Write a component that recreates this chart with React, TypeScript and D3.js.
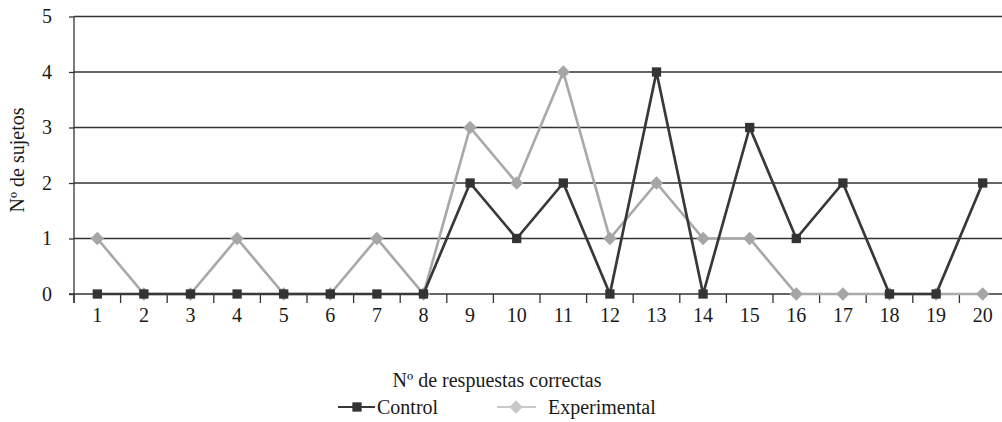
import { useEffect, useRef } from "react";
import * as d3 from "d3";

// ─── Data ───────────────────────────────────────────────────────────────────
const categories = [1, 2, 3, 4, 5, 6, 7, 8, 9, 10, 11, 12, 13, 14, 15, 16, 17, 18, 19, 20];
const control = [0, 0, 0, 0, 0, 0, 0, 0, 2, 1, 2, 0, 4, 0, 3, 1, 2, 0, 0, 2];
const experimental = [1, 0, 0, 1, 0, 0, 1, 0, 3, 2, 4, 1, 2, 1, 1, 0, 0, 0, 0, 0];
const yTicks = [0, 1, 2, 3, 4, 5];

const FONT = "'Liberation Serif', 'DejaVu Serif', serif";
const DARK = "#383838";
const LIGHT = "#a9a9a9";
const FS = 20;

export default function App() {
  const svgRef = useRef<SVGSVGElement>(null);

  useEffect(() => {
    document.body.style.margin = "0";
    if (!svgRef.current) return;

    const left = 74;
    const right = 1006;
    const top = 16.5;
    const bottom = 294;

    const svg = d3.select(svgRef.current);
    svg.selectAll("*").remove();

    // ── Scales ─────────────────────────────────────────────────────────────
    const x = d3
      .scaleBand<number>()
      .domain(categories)
      .range([left, right])
      .padding(0);
    const cx = (d: number) => (x(d) ?? 0) + x.bandwidth() / 2;

    const y = d3.scaleLinear().domain([0, 5]).range([bottom, top]);

    // ── Grid lines ─────────────────────────────────────────────────────────
    svg
      .append("g")
      .selectAll("line")
      .data(yTicks.filter((t) => t > 0))
      .enter()
      .append("line")
      .attr("x1", left)
      .attr("x2", 1002)
      .attr("y1", (d) => y(d))
      .attr("y2", (d) => y(d))
      .attr("stroke", "#333")
      .attr("stroke-width", 1.3);

    // ── Y axis ─────────────────────────────────────────────────────────────
    const yAxis = svg
      .append("g")
      .attr("transform", `translate(${left},0)`)
      .call(d3.axisLeft(y).tickValues(yTicks).tickSize(5).tickPadding(17).tickFormat(d3.format("d")));
    yAxis.select(".domain").attr("stroke", "#333").attr("stroke-width", 1.3).attr("d", `M0,${top}V${bottom + 9}`);
    yAxis.selectAll("line").attr("stroke", "#333").attr("stroke-width", 1.3);
    yAxis
      .selectAll("text")
      .attr("fill", "#1a1a1a")
      .attr("font-family", FONT)
      .attr("font-size", FS);

    // ── X axis (ticks at band edges) ───────────────────────────────────────
    const xg = svg.append("g");
    xg.append("line")
      .attr("x1", left - 5)
      .attr("x2", 1002)
      .attr("y1", bottom)
      .attr("y2", bottom)
      .attr("stroke", "#333")
      .attr("stroke-width", 1.3);
    xg.selectAll(".xtick")
      .data(categories)
      .enter()
      .append("line")
      .attr("class", "xtick")
      .attr("x1", (d) => x(d) ?? 0)
      .attr("x2", (d) => x(d) ?? 0)
      .attr("y1", bottom)
      .attr("y2", bottom + 9)
      .attr("stroke", "#333")
      .attr("stroke-width", 1.3);
    xg.selectAll(".xlabel")
      .data(categories)
      .enter()
      .append("text")
      .attr("class", "xlabel")
      .attr("x", (d) => cx(d))
      .attr("y", bottom + 28)
      .attr("text-anchor", "middle")
      .attr("fill", "#1a1a1a")
      .attr("font-family", FONT)
      .attr("font-size", FS)
      .text((d) => String(d));

    // ── Axis titles ────────────────────────────────────────────────────────
    svg
      .append("text")
      .attr("transform", `translate(24,${160}) rotate(-90)`)
      .attr("text-anchor", "middle")
      .attr("fill", "#1a1a1a")
      .attr("font-family", FONT)
      .attr("font-size", FS)
      .text("Nº de sujetos");

    svg
      .append("text")
      .attr("x", 497)
      .attr("y", 387)
      .attr("text-anchor", "middle")
      .attr("fill", "#1a1a1a")
      .attr("font-family", FONT)
      .attr("font-size", FS)
      .text("Nº de respuestas correctas");

    // ── Series ─────────────────────────────────────────────────────────────
    const line = d3
      .line<number>()
      .x((_, i) => cx(categories[i]))
      .y((d) => y(d));

    const diamond = d3.symbol().type(d3.symbolDiamond2).size(115);
    const square = d3.symbol().type(d3.symbolSquare2).size(110);

    const drawSeries = (vals: number[], color: string, sym: d3.Symbol<any, any>, symColor: string) => {
      svg
        .append("path")
        .datum(vals)
        .attr("d", line)
        .attr("fill", "none")
        .attr("stroke", color)
        .attr("stroke-width", 2.7)
        .attr("stroke-linejoin", "miter");
      svg
        .append("g")
        .selectAll("path")
        .data(vals)
        .enter()
        .append("path")
        .attr("d", sym as any)
        .attr("transform", (d, i) => `translate(${cx(categories[i])},${y(d)})`)
        .attr("fill", symColor);
    };

    drawSeries(experimental, LIGHT, diamond, "#a6a6a6");
    drawSeries(control, DARK, square, "#333");

    // ── Legend ─────────────────────────────────────────────────────────────
    const ly = 407;
    const lg = svg.append("g");
    lg.append("line")
      .attr("x1", 338)
      .attr("x2", 375)
      .attr("y1", ly)
      .attr("y2", ly)
      .attr("stroke", DARK)
      .attr("stroke-width", 1.8);
    lg.append("path")
      .attr("d", square as any)
      .attr("transform", `translate(357,${ly})`)
      .attr("fill", "#333");
    lg.append("text")
      .attr("x", 377)
      .attr("y", ly + 7)
      .attr("fill", "#1a1a1a")
      .attr("font-family", FONT)
      .attr("font-size", FS)
      .text("Control");

    lg.append("line")
      .attr("x1", 497)
      .attr("x2", 536)
      .attr("y1", ly)
      .attr("y2", ly)
      .attr("stroke", "#c8c8c8")
      .attr("stroke-width", 1.8);
    lg.append("path")
      .attr("d", diamond as any)
      .attr("transform", `translate(516,${ly})`)
      .attr("fill", "#c8c8c8");
    lg.append("text")
      .attr("x", 548)
      .attr("y", ly + 7)
      .attr("fill", "#1a1a1a")
      .attr("font-family", FONT)
      .attr("font-size", FS)
      .text("Experimental");
  }, []);

  return (
    <svg
      ref={svgRef}
      width={1002}
      height={422}
      viewBox="0 0 1002 422"
      style={{ display: "block", background: "#fff" }}
    />
  );
}
